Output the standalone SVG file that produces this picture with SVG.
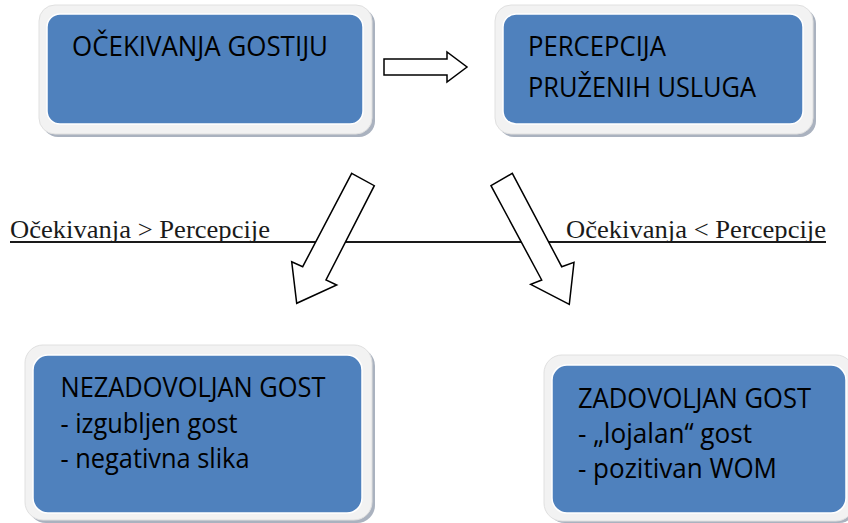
<svg xmlns="http://www.w3.org/2000/svg" width="848" height="523" viewBox="0 0 848 523">
  <style>
    .shadow { fill: #aab2bf; }
    .frame { fill: #f2f2f2; stroke: #e0e0e0; stroke-width: 1; }
    .inner { fill: #4f81bd; stroke: #ffffff; stroke-width: 1.5; }
    .lbl { font-family: "Open Sans", "Noto Sans", sans-serif; font-size: 27px; fill: #000000; }
    .cond { font-family: "Liberation Serif", "Times New Roman", serif; font-size: 26px; fill: #1a1a1a; }
    .blk { fill: #ffffff; stroke: #000000; stroke-width: 1.5; stroke-linejoin: miter; }
    .rule { stroke: #1a1a1a; stroke-width: 2; }
  </style>
  <rect width="848" height="523" fill="#ffffff"/>

  <g id="connectors">
    <line class="rule" x1="10" y1="242" x2="826" y2="242"/>
    <polygon class="blk" points="384,59 447,59 447,52 467,67 447,82 447,75 384,75"/>
    <polygon class="blk" points="351.7,173.3 374.3,185.7 326,280 336.7,285 296.7,303.3 291.7,261.7 302.7,266.7"/>
    <polygon class="blk" points="491,185.7 512.3,173.3 561.7,266.7 574,262.3 569.3,304.3 530.7,284.3 541.7,280"/>
  </g>

  <g id="cond-left">
    <text class="cond" x="10" y="238" textLength="260" lengthAdjust="spacingAndGlyphs">Očekivanja &gt; Percepcije</text>
  </g>
  <g id="cond-right">
    <text class="cond" x="566" y="238" textLength="260" lengthAdjust="spacingAndGlyphs">Očekivanja &lt; Percepcije</text>
  </g>

  <g id="ocekivanja">
    <rect class="shadow" x="42" y="8" width="333" height="129" rx="16"/>
    <rect class="frame" x="39" y="5" width="333" height="129" rx="16"/>
    <rect class="inner" x="47" y="14" width="316" height="110" rx="13"/>
    <text class="lbl" x="72" y="56" textLength="256" lengthAdjust="spacingAndGlyphs">OČEKIVANJA GOSTIJU</text>
  </g>

  <g id="percepcija">
    <rect class="shadow" x="498" y="8" width="318" height="129" rx="16"/>
    <rect class="frame" x="495" y="5" width="318" height="129" rx="16"/>
    <rect class="inner" x="503" y="14" width="300" height="110" rx="13"/>
    <text class="lbl" x="528" y="56" textLength="138" lengthAdjust="spacingAndGlyphs">PERCEPCIJA</text>
    <text class="lbl" x="528" y="97" textLength="228" lengthAdjust="spacingAndGlyphs">PRUŽENIH USLUGA</text>
  </g>

  <g id="nezadovoljan">
    <rect class="shadow" x="28" y="348" width="347" height="175" rx="18"/>
    <rect class="frame" x="25" y="345" width="347" height="175" rx="18"/>
    <rect class="inner" x="33" y="355" width="329" height="158" rx="15"/>
    <text class="lbl" x="60.5" y="397" textLength="265" lengthAdjust="spacingAndGlyphs">NEZADOVOLJAN GOST</text>
    <text class="lbl" x="60.5" y="433" textLength="177" lengthAdjust="spacingAndGlyphs">- izgubljen gost</text>
    <text class="lbl" x="60.5" y="468" textLength="189" lengthAdjust="spacingAndGlyphs">- negativna slika</text>
  </g>

  <g id="zadovoljan">
    <rect class="shadow" x="547" y="358" width="310" height="165" rx="18"/>
    <rect class="frame" x="544" y="355" width="310" height="166" rx="18"/>
    <rect class="inner" x="552" y="365" width="294" height="148" rx="15"/>
    <text class="lbl" x="578" y="408" textLength="233" lengthAdjust="spacingAndGlyphs">ZADOVOLJAN GOST</text>
    <text class="lbl" x="578" y="443" textLength="174" lengthAdjust="spacingAndGlyphs">- „lojalan“ gost</text>
    <text class="lbl" x="578" y="478" textLength="199" lengthAdjust="spacingAndGlyphs">- pozitivan WOM</text>
  </g>
</svg>
